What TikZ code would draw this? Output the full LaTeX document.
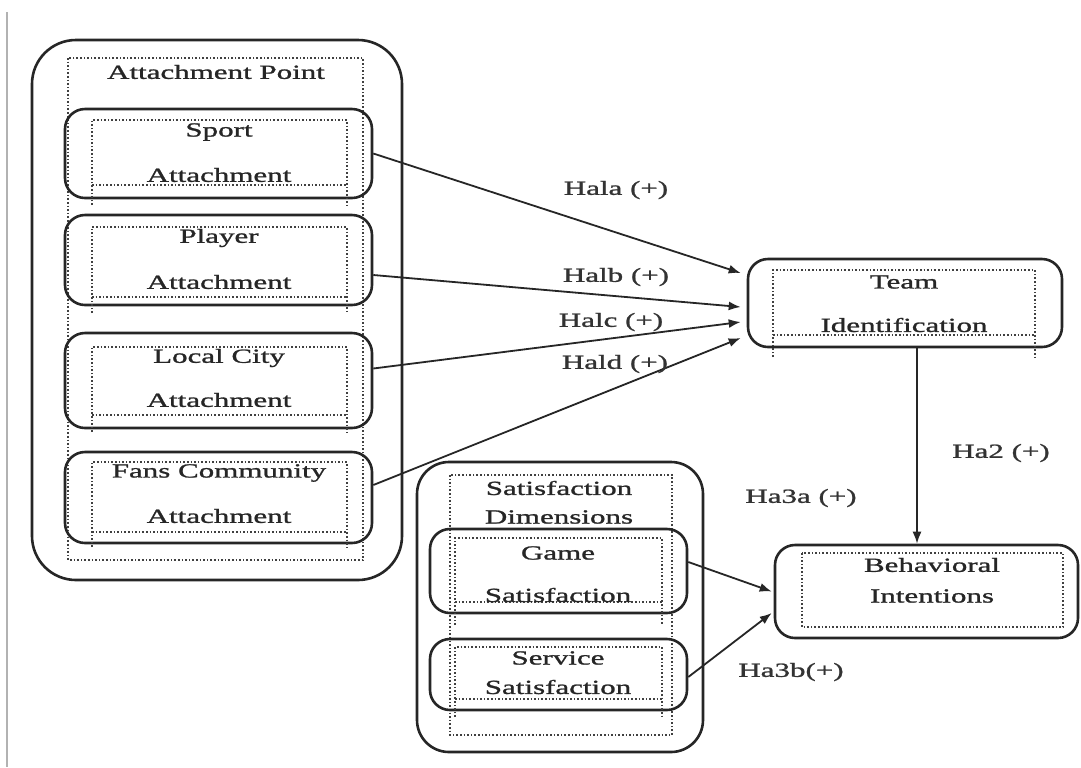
\documentclass[tikz,border=0pt]{standalone}
\usepackage{fontspec}
\setmainfont{Liberation Serif}[FakeStretch=1.55,FakeBold=1.2]
\usetikzlibrary{arrows.meta}
\newcommand\mkbox[6]{\node[box=#6, minimum width={(#4-#2)*0.5pt}, minimum height={(#5-#3)*0.5pt}] (#1) at ({(#2+#4)/2},{(#3+#5)/2}) {};}
\newcommand\mkinner[5]{\draw[dotline] (#1,#5) -- (#1,#2) -- (#3,#2) -- (#3,#5);\draw[dotline,line width=0.9pt] (#1,#4) -- (#3,#4);}
\begin{document}
\begin{tikzpicture}[x=0.5pt,y=-0.5pt,
  box/.style={draw=black!85, line width=1.3pt, rounded corners=#1, inner sep=0pt},
  box/.default=10pt,
  dotline/.style={draw=black!75, line width=0.8pt, densely dotted},
  txt/.style={font=\fontsize{10pt}{12pt}\selectfont, text=black!85, inner sep=0pt},
  lbl/.style={font=\fontsize{10pt}{12pt}\selectfont, text=black!80, inner sep=0pt},
  arr/.style={draw=black!85, line width=0.9pt, -{Latex[length=6pt,width=4.5pt]}}]
\useasboundingbox (0,0) rectangle (1081,767);
\fill[white] (0,0) rectangle (1081,767);
\draw[black!30, line width=1pt] (7,12) -- (7,767);
% left group
\mkbox{attach}{32}{40}{402}{580}{22pt}
\draw[dotline] (68,58) rectangle (363,560);
\node[txt] (tap) at (216,72) {Attachment Point};
\mkbox{sport}{65}{109}{372}{198}{10pt}
\mkinner{92}{120}{347}{185}{205}
\node[txt] (ts1) at (219,132) {Sport};
\node[txt] (ts2) at (219,175) {Attachment};
\mkbox{player}{65}{215}{372}{305}{10pt}
\mkinner{92}{227}{347}{297}{313}
\node[txt] (tp1) at (219,238) {Player};
\node[txt] (tp2) at (219,282) {Attachment};
\mkbox{local}{65}{333}{372}{428}{10pt}
\mkinner{92}{347}{347}{415}{432}
\node[txt] (tl1) at (219,358) {Local City};
\node[txt] (tl2) at (219,400) {Attachment};
\mkbox{fans}{65}{452}{372}{543}{10pt}
\mkinner{92}{462}{347}{532}{547}
\node[txt] (tf1) at (219,473) {Fans Community};
\node[txt] (tf2) at (219,516) {Attachment};
% team
\mkbox{team}{748}{259}{1062}{347}{10pt}
\mkinner{773}{270}{1035}{335}{357}
\node[txt] (tt1) at (904,282) {Team};
\node[txt] (tt2) at (904,325) {Identification};
% behavioral
\mkbox{behav}{775}{545}{1078}{638}{10pt}
\draw[dotline] (802,553) rectangle (1063,627);
\node[txt] (tb1) at (932,565) {Behavioral};
\node[txt] (tb2) at (932,596) {Intentions};
% satisfaction group
\mkbox{satis}{417}{462}{703}{752}{16pt}
\draw[dotline] (450,475) rectangle (672,735);
\node[txt] (tsd1) at (559,488) {Satisfaction};
\node[txt] (tsd2) at (559,517) {Dimensions};
\mkbox{game}{430}{529}{687}{613}{10pt}
\mkinner{455}{538}{662}{602}{625}
\node[txt] (tg1) at (558,553) {Game};
\node[txt] (tg2) at (558,595) {Satisfaction};
\mkbox{service}{430}{639}{687}{710}{10pt}
\mkinner{455}{647}{662}{699}{717}
\node[txt] (tv1) at (558,658) {Service};
\node[txt] (tv2) at (558,687) {Satisfaction};
% arrows
\draw[arr] (sport.east) -- ([yshift=15pt,xshift=-3pt]team.west);
\draw[arr] ([yshift=-7.5pt]player.east) -- ([yshift=-2pt,xshift=-3pt]team.west);
\draw[arr] ([yshift=6pt]local.east) -- ([yshift=-9.5pt,xshift=-3pt]team.west);
\draw[arr] ([yshift=6.25pt]fans.east) -- ([yshift=-17.5pt,xshift=-3pt]team.west);
\draw[arr] ([xshift=6pt]team.south) -- ([xshift=6pt]team.south |- behav.north);
\draw[arr] ([yshift=4.5pt]game.east) -- ([xshift=-1pt]behav.west);
\draw[arr] ([yshift=-1.25pt]service.east) -- ([yshift=-10.75pt,xshift=-1pt]behav.west);
% labels
\node[lbl] (l1) at (616,190) {Hala (+)};
\node[lbl] (l2) at (616,277) {Halb (+)};
\node[lbl] (l3) at (611,322) {Halc (+)};
\node[lbl] (l4) at (615,364) {Hald (+)};
\node[lbl] (l5) at (1001,453) {Ha2 (+)};
\node[lbl] (l6) at (801,498) {Ha3a (+)};
\node[lbl] (l7) at (791,672) {Ha3b(+)};
\end{tikzpicture}
\end{document}
